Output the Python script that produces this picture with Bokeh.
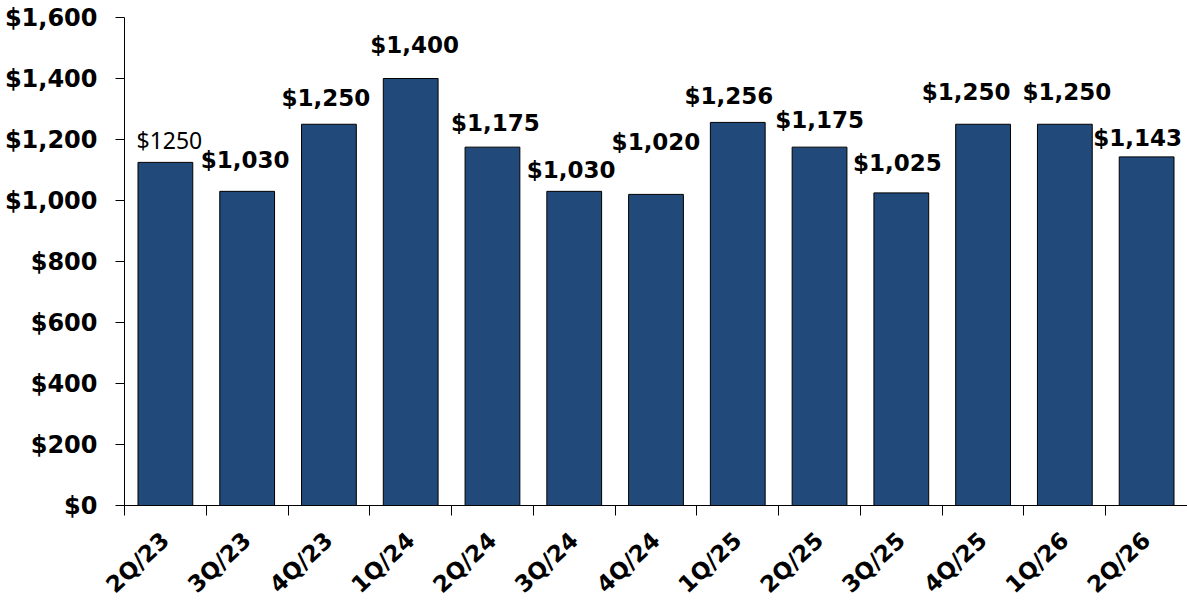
from bokeh.plotting import figure
from bokeh.models import ColumnDataSource, FixedTicker, NumeralTickFormatter, Range1d
from bokeh.embed import file_html
from bokeh.resources import INLINE

# data
quarters = ["2Q/23", "3Q/23", "4Q/23", "1Q/24", "2Q/24", "3Q/24", "4Q/24",
            "1Q/25", "2Q/25", "3Q/25", "4Q/25", "1Q/26", "2Q/26"]
amounts = [1125, 1030, 1250, 1400, 1175, 1030, 1020, 1256, 1175, 1025, 1250, 1250, 1143]
bar_labels = ["$1250", "$1,030", "$1,250", "$1,400", "$1,175", "$1,030", "$1,020",
              "$1,256", "$1,175", "$1,025", "$1,250", "$1,250", "$1,143"]
y_ticks = [0, 200, 400, 600, 800, 1000, 1200, 1400, 1600]

# label nudges in pixels (the labels in the original are hand placed)
label_dx = [4, -2, -3, 4, 3, -3, 0, -9, 0, -4, -17, 2, -9]
label_dy = [22, 31, 26, 34, 24, 21, 52, 26, 27, 30, 32, 32, 19]
label_font = ["Noto Sans"] + ["DejaVu Sans"] * 12
label_style = ["normal"] + ["bold"] * 12

BAR = "#21497A"
FONT = "DejaVu Sans"

n = len(quarters)
xs = [i + 0.5 for i in range(n)]

src = ColumnDataSource(dict(x=xs, top=amounts, label=bar_labels,
                            dx=label_dx, dy=[-d for d in label_dy],
                            font=label_font, style=label_style))

p = figure(width=1187, height=610, output_backend="svg", toolbar_location=None,
           x_range=Range1d(0, n), y_range=Range1d(0, 1600),
           min_border_left=124, min_border_right=0, min_border_top=17, min_border_bottom=101)
p.outline_line_color = None
p.grid.visible = False

p.vbar(x="x", top="top", width=0.67, bottom=0, source=src,
       fill_color=BAR, line_color="black", line_width=1)

p.text(x="x", y="top", text="label", source=src, x_offset="dx", y_offset="dy",
       text_align="center", text_baseline="middle", text_font="font",
       text_font_style="style", text_font_size="23px", text_color="black")

# y axis
p.yaxis.ticker = FixedTicker(ticks=y_ticks)
p.yaxis.formatter = NumeralTickFormatter(format="$0,0")
p.yaxis.major_label_text_font = FONT
p.yaxis.major_label_text_font_style = "bold"
p.yaxis.major_label_text_font_size = "24px"
p.yaxis.major_label_text_color = "black"
p.yaxis.major_label_standoff = 18
p.yaxis.major_tick_out = 9
p.yaxis.major_tick_in = 0
p.yaxis.minor_tick_line_color = None
p.yaxis.axis_line_color = "black"

# x axis: names at the bar centres, tick marks on the boundaries
p.xaxis.ticker = FixedTicker(ticks=xs, minor_ticks=list(range(n)))
p.xaxis.major_label_overrides = {x: q for x, q in zip(xs, quarters)}
p.xaxis.major_label_orientation = 0.75
p.xaxis.major_label_text_font = FONT
p.xaxis.major_label_text_font_style = "bold"
p.xaxis.major_label_text_font_size = "23px"
p.xaxis.major_label_text_color = "black"
p.xaxis.major_label_standoff = 21
p.xaxis.major_tick_out = 0
p.xaxis.major_tick_in = 0
p.xaxis.minor_tick_out = 10
p.xaxis.minor_tick_in = 0
p.xaxis.minor_tick_line_color = "black"
p.xaxis.axis_line_color = "black"

open("out.html", "w").write(file_html(p, INLINE))
